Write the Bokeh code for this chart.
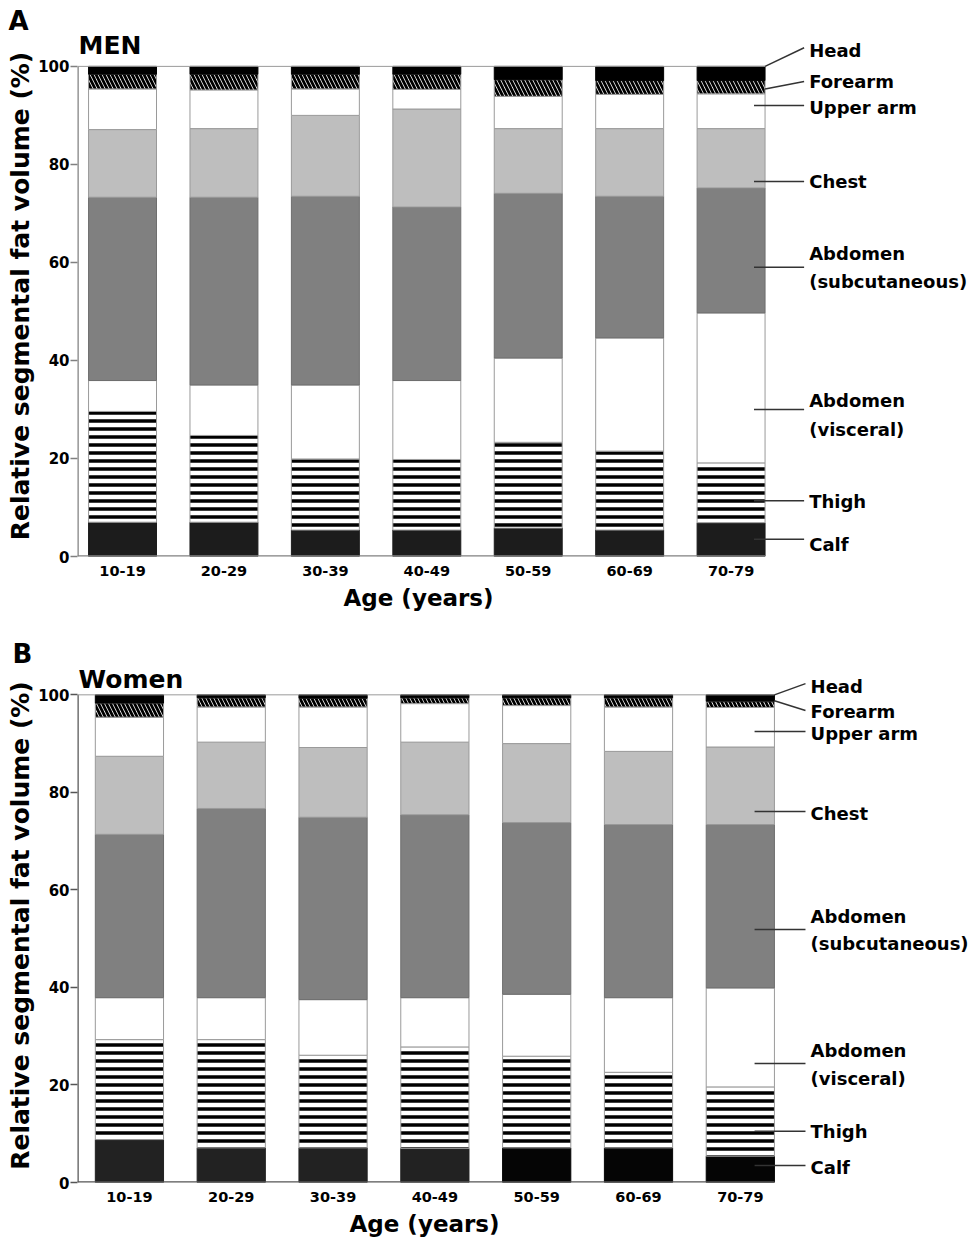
import numpy as np
from bokeh.plotting import figure
from bokeh.models import ColumnDataSource, Range1d, FixedTicker, Label, Title
from bokeh.layouts import column
from bokeh.embed import file_html
from bokeh.resources import INLINE

# ---------------- data ----------------
age_groups = ["10-19", "20-29", "30-39", "40-49", "50-59", "60-69", "70-79"]
segments = ["Calf", "Thigh", "Abdomen (visceral)", "Abdomen (subcutaneous)",
            "Chest", "Upper arm", "Forearm", "Head"]

men_calf = [7.0, 7.0, 5.4, 5.4, 5.8, 5.4, 6.9]
men_thigh = [22.6, 17.7, 14.5, 14.4, 17.5, 16.1, 12.2]
men_visceral = [6.3, 10.3, 15.1, 16.1, 17.2, 23.1, 30.6]
men_subcut = [37.4, 38.3, 38.5, 35.4, 33.6, 28.9, 25.5]
men_chest = [13.8, 14.0, 16.5, 20.0, 13.2, 13.8, 12.1]
men_upper_arm = [8.3, 7.9, 5.4, 4.0, 6.6, 7.0, 7.1]
men_forearm = [3.0, 3.2, 3.0, 3.1, 3.4, 2.8, 2.7]
men_head = [1.6, 1.6, 1.6, 1.6, 2.7, 2.9, 2.9]

women_calf = [8.8, 7.1, 7.1, 7.0, 7.1, 7.1, 5.4]
women_thigh = [20.5, 22.2, 19.0, 20.8, 18.8, 15.5, 14.2]
women_visceral = [8.6, 8.6, 11.4, 10.1, 12.7, 15.3, 20.3]
women_subcut = [33.5, 38.8, 37.4, 37.5, 35.2, 35.5, 33.5]
women_chest = [16.0, 13.6, 14.3, 14.9, 16.2, 15.0, 15.9]
women_upper_arm = [8.0, 7.2, 8.3, 7.9, 7.8, 9.1, 8.1]
women_forearm = [2.9, 1.9, 1.8, 1.2, 1.6, 1.9, 1.3]
women_head = [1.7, 0.6, 0.7, 0.6, 0.6, 0.6, 1.3]

y_ticks = [0, 20, 40, 60, 80, 100]

# ---------------- styles ----------------
FONT = "DejaVu Sans"
BAR_W = 0.67
BAR_EDGE = len(age_groups) - 1 + BAR_W / 2

seg_styles = [
    dict(fill_color="#1c1c1c", line_color="#1c1c1c"),
    dict(fill_color="white", hatch_pattern="horizontal_line", hatch_color="black",
         hatch_weight=3.5, hatch_scale=8, line_color="#9a9a9a"),
    dict(fill_color="white", line_color="#9a9a9a"),
    dict(fill_color="#808080", line_color="#6e6e6e"),
    dict(fill_color="#bebebe", line_color="#9a9a9a"),
    dict(fill_color="white", line_color="#9a9a9a"),
    dict(fill_color="white", hatch_pattern="left_diagonal_line", hatch_color="black",
         hatch_weight=2.8, hatch_scale=8, line_color="#9a9a9a"),
    dict(fill_color="black", line_color="black"),
]


def make_panel(series, calf_colors, letter, letter_offset, title, title_y,
               xlabel_offset, labels, leaders, x_start, x_end, height, border_left,
               border_top, border_bottom, y_end, axis_color):
    p = figure(width=974, height=height, output_backend="svg", toolbar_location=None,
               tools="", x_range=Range1d(x_start, x_end), y_range=Range1d(0, y_end),
               min_border_left=border_left, min_border_right=0, min_border_top=border_top,
               min_border_bottom=border_bottom)
    p.grid.visible = False
    p.outline_line_color = None

    xs = np.arange(len(age_groups))
    bottom = np.zeros(len(age_groups))
    for i, (vals, style) in enumerate(zip(series, seg_styles)):
        top = bottom + np.asarray(vals, dtype=float)
        data = dict(x=xs, bottom=bottom.copy(), top=top.copy())
        st = dict(style)
        if i == 0:
            data["color"] = calf_colors
            st["fill_color"] = "color"
            st["line_color"] = "color"
        p.vbar(x="x", bottom="bottom", top="top", width=BAR_W,
               source=ColumnDataSource(data), line_width=1, **st)
        bottom = top

    # axis lines limited to the bar area, and top line at 100
    p.segment(x0=[x_start], y0=[0], x1=[x_start], y1=[100], line_color=axis_color, line_width=2.5)
    p.segment(x0=[x_start], y0=[0], x1=[BAR_EDGE], y1=[0], line_color=axis_color, line_width=2.5)
    p.segment(x0=[x_start], y0=[100], x1=[BAR_EDGE], y1=[100], line_color="#9a9a9a", line_width=1)

    # leader lines
    p.segment(x0=[l[0] for l in leaders], y0=[l[1] for l in leaders],
              x1=[l[2] for l in leaders], y1=[l[3] for l in leaders],
              line_color="#333333", line_width=1.5)

    # axes
    ya = p.yaxis[0]
    ya.ticker = FixedTicker(ticks=y_ticks)
    ya.axis_line_color = None
    ya.major_tick_line_color = axis_color
    ya.major_tick_line_width = 1.5
    ya.major_tick_out = 7
    ya.major_tick_in = 0
    ya.minor_tick_line_color = None
    ya.major_label_standoff = 1
    ya.major_label_text_font = FONT
    ya.major_label_text_font_style = "bold"
    ya.major_label_text_font_size = "15px"
    ya.major_label_text_color = "black"
    ya.axis_label = "Relative segmental fat volume (%)"
    ya.axis_label_standoff = 0
    ya.axis_label_text_font = FONT
    ya.axis_label_text_font_style = "bold"
    ya.axis_label_text_font_size = "25px"
    ya.axis_label_text_color = "black"

    xa = p.xaxis[0]
    xa.ticker = FixedTicker(ticks=list(range(len(age_groups))))
    xa.major_label_overrides = {i: g for i, g in enumerate(age_groups)}
    xa.axis_line_color = None
    xa.major_tick_line_color = None
    xa.minor_tick_line_color = None
    xa.major_label_standoff = 3
    xa.major_label_text_font = FONT
    xa.major_label_text_font_style = "bold"
    xa.major_label_text_font_size = "14.5px"
    xa.major_label_text_color = "black"

    # panel letter (above, shifted left) and x-axis title (below)
    p.add_layout(Title(text=letter, align="left", offset=letter_offset, standoff=0,
                       text_font=FONT, text_font_style="bold", text_font_size="26px",
                       text_color="black"), "above")
    p.add_layout(Title(text="Age (years)", align="left", offset=xlabel_offset, standoff=8,
                       text_font=FONT, text_font_style="bold", text_font_size="23px",
                       text_color="black"), "below")

    p.add_layout(Label(x=x_start + 0.01, y=title_y, text=title, text_font=FONT,
                       text_font_style="bold", text_font_size="25px", text_color="black",
                       text_baseline="middle", text_align="left"))
    for txt, lx, ly in labels:
        p.add_layout(Label(x=lx, y=ly, text=txt, text_font=FONT, text_font_style="bold",
                           text_font_size="18px", text_color="black",
                           text_baseline="middle", text_align="left"))
    return p


# ---- panel A (men) ----
men_series = [men_calf, men_thigh, men_visceral, men_subcut, men_chest,
              men_upper_arm, men_forearm, men_head]
ax_t = 6.77
labels_a = [("Head", ax_t, 103.3), ("Forearm", ax_t, 96.9), ("Upper arm", ax_t, 91.6),
            ("Chest", ax_t, 76.5), ("Abdomen", ax_t, 61.8), ("(subcutaneous)", ax_t, 56.1),
            ("Abdomen", ax_t, 31.8), ("(visceral)", ax_t, 25.9), ("Thigh", ax_t, 11.2),
            ("Calf", ax_t, 2.4)]
l0, l1 = 6.226, 6.72
leaders_a = [(BAR_EDGE, 100, l1, 103.8), (BAR_EDGE, 95.4, l1, 96.9), (l0, 92.0, l1, 92.0),
             (l0, 76.5, l1, 76.5), (l0, 59.0, l1, 59.0), (l0, 30.0, l1, 30.0),
             (l0, 11.4, l1, 11.4), (l0, 3.5, l1, 3.5)]
pA = make_panel(men_series, ["#1c1c1c"] * 7, "A", -69, "MEN", 104.2,
                266, labels_a, leaders_a, x_start=-0.444, x_end=8.40, height=616,
                border_left=77, border_top=35, border_bottom=60, y_end=106.3,
                axis_color="#808080")

# ---- panel B (women) ----
women_series = [women_calf, women_thigh, women_visceral, women_subcut, women_chest,
                women_upper_arm, women_forearm, women_head]
bx_t = 6.69
labels_b = [("Head", bx_t, 101.7), ("Forearm", bx_t, 96.6), ("Upper arm", bx_t, 92.1),
            ("Chest", bx_t, 75.7), ("Abdomen", bx_t, 54.6), ("(subcutaneous)", bx_t, 49.0),
            ("Abdomen", bx_t, 27.1), ("(visceral)", bx_t, 21.3), ("Thigh", bx_t, 10.5),
            ("Calf", bx_t, 3.1)]
m0, m1 = 6.14, 6.64
leaders_b = [(BAR_EDGE, 100, m1, 102.3), (BAR_EDGE, 98.8, m1, 96.8), (m0, 92.5, m1, 92.5),
             (m0, 76.1, m1, 76.1), (m0, 51.9, m1, 51.9), (m0, 24.4, m1, 24.4),
             (m0, 10.5, m1, 10.5), (m0, 3.5, m1, 3.5)]
pB = make_panel(women_series, ["#222222"] * 4 + ["#050505"] * 3, "B", -65,
                "Women", 103.2, 272, labels_b, leaders_b, x_start=-0.51, x_end=8.30,
                height=626, border_left=77, border_top=52, border_bottom=60,
                y_end=105.4, axis_color="#555555")

layout = column(pA, pB, spacing=0)
open("out.html", "w").write(file_html(layout, INLINE))
